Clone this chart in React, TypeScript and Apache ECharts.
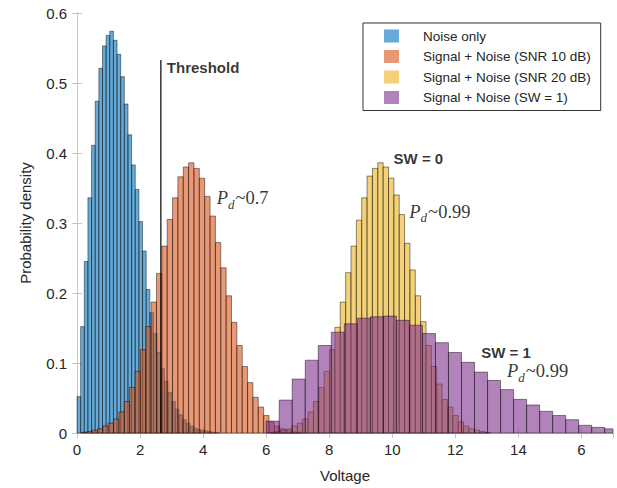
import React, { useEffect, useRef } from "react";
import * as echarts from "echarts";

// ---------- data ----------
const seriesNames = [
  "Noise only",
  "Signal + Noise (SNR 10 dB)",
  "Signal + Noise (SNR 20 dB)",
  "Signal + Noise (SW = 1)",
];

// Noise only histogram
const noiseStart = 0;
const noiseBinWidth = 0.1155;
const noiseDensity = [
  0.052, 0.152, 0.245, 0.336, 0.411, 0.474, 0.521, 0.553, 0.568, 0.574,
  0.561, 0.541, 0.509, 0.47, 0.426, 0.383, 0.348, 0.302, 0.26, 0.205,
  0.172, 0.142, 0.115, 0.092, 0.074, 0.058, 0.045, 0.034, 0.026, 0.019,
  0.014, 0.01, 0.007, 0.005, 0.004, 0.003, 0.002, 0.001, 0.001,
];

// Signal + Noise (SNR 10 dB)
const snr10Start = 0.14;
const snr10BinWidth = 0.17;
const snr10Density = [
  0.001, 0.002, 0.004, 0.006, 0.01, 0.014, 0.02, 0.03, 0.045, 0.065,
  0.088, 0.119, 0.152, 0.187, 0.228, 0.267, 0.305, 0.336, 0.366, 0.38,
  0.386, 0.378, 0.364, 0.338, 0.31, 0.272, 0.236, 0.196, 0.158, 0.125,
  0.095, 0.072, 0.051, 0.037, 0.025, 0.016, 0.01, 0.006, 0.004, 0.002,
  0.001,
];

// Signal + Noise (SNR 20 dB)
const snr20Start = 6.14;
const snr20BinWidth = 0.17;
const snr20Density = [
  0.001, 0.002, 0.004, 0.006, 0.01, 0.014, 0.02, 0.03, 0.045, 0.065,
  0.088, 0.119, 0.151, 0.187, 0.229, 0.267, 0.304, 0.336, 0.367, 0.378,
  0.386, 0.38, 0.364, 0.34, 0.312, 0.271, 0.233, 0.196, 0.159, 0.125,
  0.095, 0.07, 0.048, 0.037, 0.025, 0.016, 0.01, 0.006, 0.004, 0.002,
  0.001,
];

// Signal + Noise (SW = 1)
const swStart = 6.0;
const swBinWidth = 0.413;
const swDensity = [
  0.017, 0.047, 0.077, 0.104, 0.125, 0.144, 0.156, 0.164, 0.166, 0.167,
  0.161, 0.154, 0.142, 0.129, 0.115, 0.101, 0.087, 0.075, 0.062, 0.048,
  0.04, 0.031, 0.025, 0.019, 0.011, 0.008, 0.006,
];

const thresholdVoltage = 2.66;
const thresholdTop = 0.533;

const xTickValues = [0, 2, 4, 6, 8, 10, 12, 14, 16];
const xTickLabels = ["0", "2", "4", "6", "8", "10", "12", "14", "6"];

const annotations = [
  { text: "Threshold", kind: "bold", x: 2.85, y: 0.522 },
  { text: "0.7", kind: "pd", x: 4.43, y: 0.333 },
  { text: "SW = 0", kind: "bold", x: 10.04, y: 0.392 },
  { text: "0.99", kind: "pd", x: 10.54, y: 0.314 },
  { text: "SW = 1", kind: "bold", x: 12.82, y: 0.115 },
  { text: "0.99", kind: "pd", x: 13.64, y: 0.086 },
];

// ---------- styling ----------
const fills = [
  "rgba(0,114,189,0.6)",
  "rgba(217,83,25,0.6)",
  "rgba(237,177,32,0.6)",
  "rgba(126,47,142,0.6)",
];
const SANS = "Liberation Sans";
const SERIF = "Liberation Serif";

function bins(start: number, width: number, values: number[]) {
  return values.map((h, i) => [start + i * width, start + (i + 1) * width, h]);
}

function histSeries(name: string, fill: string, data: number[][]) {
  return {
    type: "custom",
    name,
    itemStyle: { color: fill },
    encode: { x: [0, 1], y: 2 },
    data,
    renderItem: (params: any, api: any) => {
      const x0 = api.value(0);
      const x1 = api.value(1);
      const h = api.value(2);
      const pTop = api.coord([x0, h]);
      const pBot = api.coord([x1, 0]);
      const cs = params.coordSys;
      const right = cs.x + cs.width;
      const xa = pTop[0];
      const xb = Math.min(pBot[0], right);
      if (xb <= xa) return null;
      return {
        type: "rect",
        shape: { x: xa, y: pTop[1], width: xb - xa, height: pBot[1] - pTop[1] },
        style: { fill, stroke: "rgba(0,0,0,0.75)", lineWidth: 0.6 },
      };
    },
  };
}

export default function App() {
  const ref = useRef<HTMLDivElement>(null);

  useEffect(() => {
    if (!ref.current) return;
    const chart = echarts.init(ref.current, undefined, { renderer: "svg" });

    const axisGray = "#c4c4c4";
    const labelColor = "#262626";

    const option: any = {
      animation: false,
      backgroundColor: "#fff",
      grid: { left: 77, top: 13, right: 4, bottom: 54, containLabel: false },
      legend: {
        data: seriesNames,
        orient: "vertical",
        left: 363,
        top: 23,
        icon: "rect",
        itemWidth: 15,
        itemHeight: 13,
        itemGap: 6.5,
        padding: [6, 10, 6, 21],
        borderColor: "#333",
        borderWidth: 1,
        backgroundColor: "#fff",
        selectedMode: false,
        itemStyle: { borderWidth: 0 },
        textStyle: {
          fontFamily: SANS,
          fontSize: 13.5,
          color: labelColor,
          padding: [0, 0, 0, 19],
        },
      },
      xAxis: [
        {
          type: "value",
          min: 0,
          max: 17,
          interval: 2,
          name: "Voltage",
          nameLocation: "middle",
          nameGap: 35,
          nameTextStyle: { fontFamily: SANS, fontSize: 15, color: labelColor },
          axisLine: { show: true, lineStyle: { color: axisGray } },
          axisTick: { show: true, inside: true, length: 5, lineStyle: { color: axisGray } },
          splitLine: { show: false },
          axisLabel: {
            fontFamily: SANS,
            fontSize: 15,
            color: labelColor,
            margin: 9,
            showMaxLabel: false,
            formatter: (v: number) => {
              const i = xTickValues.indexOf(v);
              return i >= 0 ? xTickLabels[i] : "";
            },
          },
        },
        {
          type: "value",
          position: "top",
          min: 0,
          max: 17,
          interval: 2,
          axisLine: { show: true, lineStyle: { color: axisGray } },
          axisTick: { show: true, inside: true, length: 5, lineStyle: { color: axisGray } },
          axisLabel: { show: false },
          splitLine: { show: false },
        },
      ],
      yAxis: [
        {
          type: "value",
          min: 0,
          max: 0.6,
          interval: 0.1,
          name: "Probability density",
          nameLocation: "middle",
          nameGap: 44,
          nameTextStyle: { fontFamily: SANS, fontSize: 15, color: labelColor },
          axisLine: { show: true, lineStyle: { color: axisGray } },
          axisTick: { show: true, inside: true, length: 5, lineStyle: { color: axisGray } },
          splitLine: { show: false },
          axisLabel: { fontFamily: SANS, fontSize: 15, color: labelColor, margin: 10 },
        },
        {
          type: "value",
          position: "right",
          min: 0,
          max: 0.6,
          interval: 0.1,
          axisLine: { show: true, lineStyle: { color: axisGray } },
          axisTick: { show: true, inside: true, length: 5, lineStyle: { color: axisGray } },
          axisLabel: { show: false },
          splitLine: { show: false },
        },
      ],
      series: [
        histSeries(seriesNames[0], fills[0], bins(noiseStart, noiseBinWidth, noiseDensity)),
        histSeries(seriesNames[1], fills[1], bins(snr10Start, snr10BinWidth, snr10Density)),
        histSeries(seriesNames[2], fills[2], bins(snr20Start, snr20BinWidth, snr20Density)),
        histSeries(seriesNames[3], fills[3], bins(swStart, swBinWidth, swDensity)),
        {
          type: "line",
          name: "threshold",
          data: [
            [thresholdVoltage, 0],
            [thresholdVoltage, thresholdTop],
          ],
          symbol: "none",
          silent: true,
          lineStyle: { color: "#000", width: 1.2 },
        },
        {
          type: "scatter",
          name: "annotations",
          symbolSize: 0,
          silent: true,
          data: annotations.map((a) => ({
            value: [a.x, a.y],
            label: {
              show: true,
              position: "right",
              distance: 0,
              formatter: a.kind === "pd" ? `{p|P}{d|d}{t|~${a.text}}` : `{b|${a.text}}`,
            },
          })),
          label: {
            show: true,
            rich: {
              b: { fontFamily: SANS, fontSize: 15, fontWeight: "bold", color: "#000" },
              p: {
                fontFamily: SERIF,
                fontStyle: "italic",
                fontSize: 18.5,
                color: "#000",
                verticalAlign: "bottom",
                padding: [0, 0, 3, 0],
              },
              d: {
                fontFamily: SERIF,
                fontStyle: "italic",
                fontSize: 13,
                color: "#000",
                verticalAlign: "bottom",
                padding: [0, 1, 0, 0],
              },
              t: {
                fontFamily: SERIF,
                fontSize: 18.5,
                color: "#000",
                verticalAlign: "bottom",
                padding: [0, 0, 3, 0],
              },
            },
          },
        },
      ],
    };

    chart.setOption(option);
    return () => chart.dispose();
  }, []);

  return (
    <div
      ref={ref}
      style={{ position: "fixed", left: 0, top: 0, width: 617, height: 488 }}
    />
  );
}
